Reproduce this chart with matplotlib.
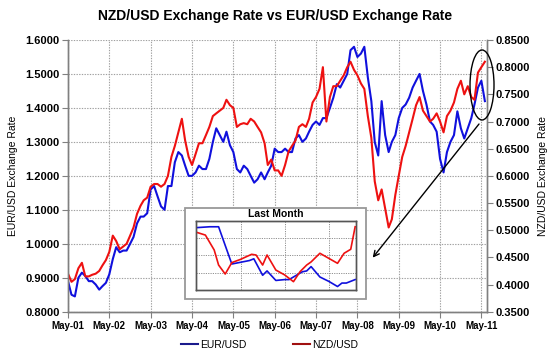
import pandas as pd
import matplotlib
matplotlib.use("Agg")
import matplotlib.pyplot as plt
from matplotlib.patches import Ellipse, Rectangle
from matplotlib.lines import Line2D

plt.rcParams["font.family"] = ["Liberation Sans", "DejaVu Sans"]

# ── Data (monthly, May-2001 .. Jun-2011) ─────────────────────────────────────

EUR_USD = [
    0.89, 0.85, 0.845, 0.90, 0.915, 0.905, 0.89, 0.89, 0.88, 0.865, 0.875, 0.885,
    0.91, 0.955, 0.99, 0.975, 0.98, 0.98, 1.00, 1.02, 1.06, 1.08, 1.08, 1.09,
    1.16, 1.17, 1.14, 1.11, 1.10, 1.17, 1.17, 1.24, 1.27, 1.26, 1.23, 1.20,
    1.20, 1.21, 1.23, 1.22, 1.22, 1.25, 1.30, 1.34, 1.32, 1.30, 1.33, 1.29,
    1.27, 1.22, 1.21, 1.23, 1.22, 1.20, 1.18, 1.19, 1.21, 1.19, 1.21, 1.23,
    1.28, 1.27, 1.27, 1.28, 1.27, 1.27, 1.31, 1.32, 1.30, 1.31, 1.33, 1.35,
    1.36, 1.35, 1.37, 1.37, 1.40, 1.43, 1.47, 1.46, 1.48, 1.50, 1.57, 1.58,
    1.55, 1.56, 1.58, 1.49, 1.42, 1.30, 1.26, 1.42, 1.32, 1.27, 1.30, 1.32,
    1.37, 1.40, 1.41, 1.43, 1.46, 1.48, 1.50, 1.45, 1.41, 1.36, 1.35, 1.33,
    1.25, 1.21, 1.27, 1.30, 1.32, 1.39, 1.34, 1.31, 1.34, 1.37, 1.41, 1.46,
    1.48, 1.42,
]
NZD_USD = [
    0.42, 0.405, 0.41, 0.43, 0.44, 0.415, 0.415, 0.418, 0.42, 0.425, 0.435, 0.445,
    0.46, 0.49, 0.48, 0.465, 0.47, 0.475, 0.49, 0.505, 0.53, 0.545, 0.555, 0.56,
    0.58, 0.585, 0.585, 0.58, 0.585, 0.60, 0.635, 0.655, 0.68, 0.705, 0.665, 0.635,
    0.62, 0.64, 0.66, 0.66, 0.675, 0.69, 0.71, 0.715, 0.72, 0.725, 0.74, 0.73,
    0.725, 0.69, 0.695, 0.697, 0.695, 0.705, 0.70, 0.69, 0.68, 0.66, 0.62, 0.63,
    0.61, 0.61, 0.60, 0.62, 0.645, 0.655, 0.665, 0.69, 0.695, 0.69, 0.705, 0.735,
    0.745, 0.76, 0.80, 0.70, 0.745, 0.765, 0.765, 0.775, 0.785, 0.80, 0.81, 0.795,
    0.785, 0.77, 0.76, 0.71, 0.67, 0.59, 0.555, 0.575, 0.54, 0.505, 0.52, 0.565,
    0.60, 0.635, 0.655, 0.68, 0.705, 0.73, 0.745, 0.72, 0.71, 0.70, 0.705, 0.715,
    0.70, 0.68, 0.71, 0.72, 0.735, 0.76, 0.775, 0.75, 0.765, 0.745, 0.74, 0.79,
    0.80, 0.81,
]
DATES = pd.date_range("2001-05-01", periods=len(EUR_USD), freq="MS")
TICK_DATES = pd.date_range("2001-05-01", "2011-05-01", freq="12MS")
TICK_LABELS = [d.strftime("%b-%y") for d in TICK_DATES]

# "Last Month" inset (trading days)
INSET_EUR_DAY = [0, 3, 5, 8, 10, 12, 13, 15, 16, 18, 20, 21, 22, 24, 25, 26, 28, 30, 32, 33, 34, 35, 36]
INSET_EUR = [1.472, 1.473, 1.473, 1.430, 1.432, 1.434, 1.436, 1.417, 1.422, 1.411, 1.412, 1.412,
             1.415, 1.421, 1.422, 1.427, 1.415, 1.410, 1.404, 1.408, 1.408, 1.410, 1.412]
INSET_NZD_DAY = [0, 2, 4, 5, 6.5, 8, 10, 12.5, 13.5, 15, 16, 18, 20, 22, 23.5, 25, 26, 28, 30, 32, 33.5, 35, 36]
INSET_NZD = [0.8033, 0.8017, 0.7931, 0.7844, 0.7792, 0.7858, 0.7877, 0.7906, 0.7902, 0.7844, 0.7902, 0.7815,
             0.7787, 0.7748, 0.7806, 0.7844, 0.7862, 0.7912, 0.7883, 0.7854, 0.7912, 0.7935, 0.8065]

BLUE = "#1010dd"
RED = "#ee1111"
GRID = dict(color="#a0a0a0", linestyle=(0, (1.2, 1.2)), linewidth=0.8)

# ── Main chart ───────────────────────────────────────────────────────────────

fig = plt.figure(figsize=(5.5, 3.58), dpi=100)
ax = fig.add_axes([0.1236, 0.1293, 0.7619, 0.7590])
ax2 = ax.twinx()

ax.plot(DATES, EUR_USD, color=BLUE, linewidth=1.5, zorder=3)
ax2.plot(DATES, NZD_USD, color=RED, linewidth=1.5, zorder=2)

ax.set_xlim(pd.Timestamp("2001-05-01"), pd.Timestamp("2011-06-20"))
ax.set_ylim(0.8, 1.6)
ax2.set_ylim(0.35, 0.85)
ax.set_yticks([0.8 + 0.1 * i for i in range(9)])
ax2.set_yticks([0.35 + 0.05 * i for i in range(11)])
ax.yaxis.set_major_formatter(plt.FuncFormatter(lambda v, _: f"{v:.4f}"))
ax2.yaxis.set_major_formatter(plt.FuncFormatter(lambda v, _: f"{v:.4f}"))
ax.set_xticks(TICK_DATES)
ax.set_xticklabels(TICK_LABELS)

ax.grid(True, **GRID)
ax.set_axisbelow(True)
for a in (ax, ax2):
    a.spines["top"].set_visible(False)
    for s in ("left", "right", "bottom"):
        a.spines[s].set_color("#808080")
        a.spines[s].set_linewidth(1.0)
ax.tick_params(axis="y", labelsize=8, direction="out", length=4, color="#808080", pad=2)
ax2.tick_params(axis="y", labelsize=8, direction="out", length=4, color="#808080", pad=2)
ax.tick_params(axis="x", labelsize=7, direction="out", length=4, color="#808080", pad=3)
for lbl in ax.get_yticklabels() + ax2.get_yticklabels() + ax.get_xticklabels():
    lbl.set_fontweight("bold")

ax.set_ylabel("EUR/USD Exchange Rate", fontsize=7.5, labelpad=5)
ax2.set_ylabel("NZD/USD Exchange Rate", fontsize=7.5, labelpad=6)
fig.suptitle("NZD/USD Exchange Rate vs EUR/USD Exchange Rate",
             fontsize=10, fontweight="bold", x=0.5, y=0.975)

# highlight of the latest move
fig.patches.append(Ellipse((0.8764, 0.7626), 0.0436, 0.1955, transform=fig.transFigure,
                           fill=False, edgecolor="black", linewidth=1.0, zorder=10))
ax.annotate("", xy=(0.6776, 0.2802), xycoords="figure fraction",
            xytext=(0.8709, 0.6536), textcoords="figure fraction",
            arrowprops=dict(arrowstyle="->", color="black", linewidth=1.0,
                            shrinkA=0, shrinkB=0))

handles = [Line2D([0], [0], color="#1a1a8c", linewidth=1.5, label="EUR/USD"),
           Line2D([0], [0], color="#a01010", linewidth=1.5, label="NZD/USD")]
fig.legend(handles=handles, loc="center", bbox_to_anchor=(0.49, 0.036), ncol=2,
           frameon=False, fontsize=7.5, handlelength=1.6, handletextpad=0.2,
           columnspacing=4.5)

# ── Inset: last month ────────────────────────────────────────────────────────

fig.patches.append(Rectangle((0.3364, 0.164), 0.3285, 0.254, transform=fig.transFigure,
                             facecolor="white", edgecolor="#999999", linewidth=1.3, zorder=5))
iax = fig.add_axes([0.3558, 0.19, 0.2915, 0.1935], zorder=6)
iax2 = iax.twinx()
iax.plot(INSET_EUR_DAY, INSET_EUR, color=BLUE, linewidth=1.2, zorder=3)
iax2.plot(INSET_NZD_DAY, INSET_NZD, color=RED, linewidth=1.2)
iax.set_xlim(-0.2, 36.2)
iax.set_ylim(1.40, 1.48)
iax2.set_ylim(0.77, 0.81)
iax.set_xticks([10, 20, 30])
iax.set_yticks([1.42, 1.44, 1.46])
iax.grid(True, color="#909090", linestyle=(0, (1.2, 1.2)), linewidth=0.7)
iax.tick_params(length=0, labelleft=False, labelbottom=False)
iax2.tick_params(length=0, labelright=False)
for a in (iax, iax2):
    for s in a.spines.values():
        s.set_color("#555555")
        s.set_linewidth(1.0)
iax.set_title("Last Month", fontsize=7.5, fontweight="bold", pad=2.5)

fig.savefig("out.png", dpi=100)
